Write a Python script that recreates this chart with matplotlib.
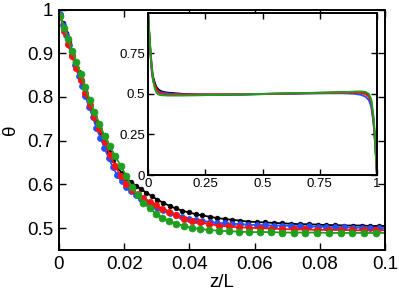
import numpy as np
import matplotlib
matplotlib.use("Agg")
import matplotlib.pyplot as plt

plt.rcParams['font.family'] = ['Liberation Sans', 'DejaVu Sans']

# grids (z/L) of the two pairs of runs
z_rg = [0.0004, 0.0016, 0.0028, 0.0040, 0.0053, 0.0067, 0.0081, 0.0094, 0.0108, 0.0124,
        0.0140, 0.0156, 0.0172, 0.0189, 0.0206, 0.0223, 0.0241, 0.0259, 0.0278, 0.0297,
        0.0317, 0.0338, 0.0360, 0.0383, 0.0407, 0.0433, 0.0461, 0.0490, 0.0520, 0.0551,
        0.0583, 0.0616, 0.0650, 0.0685, 0.0720, 0.0756, 0.0792, 0.0828, 0.0864, 0.0900,
        0.0936, 0.0972, 0.1008]
z_kb = [0.0003, 0.0012, 0.0021, 0.0030, 0.0040, 0.0050, 0.0060, 0.0070, 0.0081, 0.0092,
        0.0103, 0.0115, 0.0127, 0.0139, 0.0152, 0.0165, 0.0178, 0.0192, 0.0206, 0.0221,
        0.0236, 0.0252, 0.0268, 0.0285, 0.0302, 0.0320, 0.0339, 0.0358, 0.0378, 0.0398,
        0.0419, 0.0440, 0.0462, 0.0485, 0.0508, 0.0532, 0.0556, 0.0581, 0.0606, 0.0632,
        0.0658, 0.0685, 0.0712, 0.0739, 0.0766, 0.0793, 0.0820, 0.0847, 0.0874, 0.0901,
        0.0928, 0.0955, 0.0982, 0.1009]

theta_black = [0.990, 0.968, 0.946, 0.925, 0.902, 0.880, 0.858, 0.836, 0.812, 0.789,
               0.766, 0.742, 0.719, 0.697, 0.675, 0.656, 0.640, 0.627, 0.615, 0.605,
               0.597, 0.589, 0.581, 0.573, 0.565, 0.558, 0.551, 0.545, 0.540, 0.536,
               0.532, 0.529, 0.526, 0.523, 0.521, 0.519, 0.517, 0.515, 0.514, 0.513,
               0.512, 0.511, 0.510, 0.509, 0.509, 0.508, 0.507, 0.507, 0.506, 0.506,
               0.506, 0.505, 0.505, 0.505]
theta_blue = [0.989, 0.965, 0.942, 0.919, 0.895, 0.872, 0.849, 0.826, 0.802, 0.778,
              0.755, 0.730, 0.707, 0.684, 0.661, 0.640, 0.622, 0.607, 0.594, 0.584,
              0.575, 0.567, 0.560, 0.553, 0.547, 0.541, 0.535, 0.530, 0.526, 0.522,
              0.519, 0.516, 0.514, 0.512, 0.511, 0.510, 0.509, 0.508, 0.507, 0.507,
              0.506, 0.506, 0.505, 0.504, 0.504, 0.503, 0.503, 0.502, 0.502, 0.501,
              0.501, 0.501, 0.500, 0.500]
theta_red = [0.985, 0.950, 0.922, 0.893, 0.866, 0.839, 0.810, 0.781, 0.754, 0.727,
             0.698, 0.668, 0.643, 0.620, 0.602, 0.588, 0.577, 0.568, 0.560, 0.552,
             0.544, 0.537, 0.529, 0.522, 0.517, 0.513, 0.509, 0.506, 0.504, 0.502,
             0.501, 0.500, 0.499, 0.498, 0.497, 0.497, 0.496, 0.496, 0.496, 0.495,
             0.495, 0.495, 0.495]
theta_green = [0.986, 0.958, 0.933, 0.906, 0.880, 0.852, 0.823, 0.794, 0.766, 0.739,
               0.710, 0.688, 0.665, 0.643, 0.620, 0.594, 0.575, 0.558, 0.545, 0.533,
               0.524, 0.516, 0.510, 0.505, 0.501, 0.498, 0.496, 0.494, 0.493, 0.492,
               0.491, 0.491, 0.491, 0.490, 0.490, 0.490, 0.490, 0.489, 0.489, 0.489,
               0.489, 0.489, 0.489]

# rest of the channel, shown in the inset
z_far = [0.15, 0.2, 0.3, 0.4, 0.5, 0.6, 0.7, 0.8, 0.85, 0.9, 0.93, 0.95, 0.965, 0.975, 0.985, 0.993, 1.0]
far_black = [0.499, 0.496, 0.494, 0.495, 0.498, 0.501, 0.504, 0.507, 0.509, 0.511, 0.511, 0.505, 0.485, 0.44, 0.33, 0.18, 0.0]
far_blue = [0.496, 0.495, 0.495, 0.496, 0.498, 0.500, 0.502, 0.503, 0.503, 0.500, 0.494, 0.482, 0.46, 0.42, 0.32, 0.17, 0.0]
far_red = [0.495, 0.495, 0.496, 0.497, 0.499, 0.501, 0.503, 0.505, 0.506, 0.507, 0.505, 0.498, 0.482, 0.45, 0.34, 0.18, 0.0]
far_green = [0.489, 0.490, 0.493, 0.496, 0.499, 0.502, 0.505, 0.508, 0.510, 0.513, 0.514, 0.511, 0.498, 0.465, 0.36, 0.20, 0.0]

colors = ['black', '#2050ff', '#ff1010', '#1f9f1f']
sizes = [3.4, 4.3, 4.6, 5.0]

fig = plt.figure(figsize=(3.99, 3.0), dpi=100)
ax = fig.add_axes([59/399, 50/300, 326/399, 240.5/300])

series = [(z_kb, theta_black, far_black), (z_kb, theta_blue, far_blue),
          (z_rg, theta_red, far_red), (z_rg, theta_green, far_green)]
for (z, th, far), c, ms in zip(series, colors, sizes):
    ax.plot(z, th, '-o', color=c, lw=1.3, ms=ms, mfc=c, mec=c, mew=0.5)

ax.set_xlim(0, 0.1)
ax.set_ylim(0.45, 1.0)
ax.set_xticks([0, 0.02, 0.04, 0.06, 0.08, 0.1])
ax.set_xticklabels(['0', '0.02', '0.04', '0.06', '0.08', '0.1'])
ax.set_yticks([0.5, 0.6, 0.7, 0.8, 0.9, 1.0])
ax.set_yticklabels(['0.5', '0.6', '0.7', '0.8', '0.9', '1'])
ax.tick_params(direction='in', length=5, width=1, labelsize=13.5, top=True, right=True, pad=4)
for s in ax.spines.values():
    s.set_linewidth(1.4)
ax.set_xlabel('z/L', fontsize=13.5, labelpad=1)
ax.set_ylabel('θ', fontsize=13.5, labelpad=6)

# inset: whole channel
ins = fig.add_axes([148/399, 125/300, 229/399, 162.5/300])
for (z, th, far), c in zip(series, colors):
    ins.plot(list(z) + z_far, list(th) + far, '-', color=c, lw=1.4)
ins.set_xlim(0, 1)
ins.set_ylim(0, 1)
ins.set_xticks([0, 0.25, 0.5, 0.75, 1])
ins.set_xticklabels(['0', '0.25', '0.5', '0.75', '1'])
ins.set_yticks([0, 0.25, 0.5, 0.75])
ins.set_yticklabels(['0', '0.25', '0.5', '0.75'])
ins.tick_params(direction='in', length=4, width=1, labelsize=9.5, top=True, right=True, pad=2)
for s in ins.spines.values():
    s.set_linewidth(1.4)

fig.savefig('out.png', dpi=100)
